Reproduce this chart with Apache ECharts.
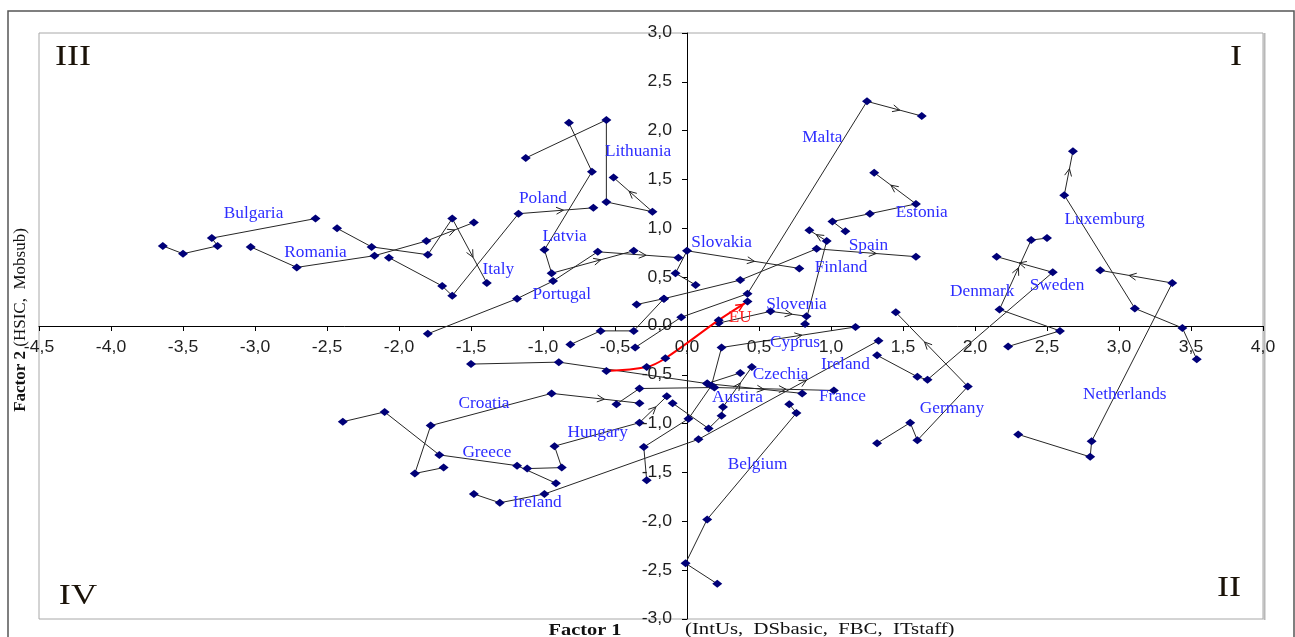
<!DOCTYPE html>
<html><head><meta charset="utf-8">
<script src="https://cdn.jsdelivr.net/npm/echarts/dist/echarts.min.js"></script>
<style>html,body{margin:0;padding:0;background:#fff}#c{width:1295px;height:637px}</style>
</head><body><div id="c"></div>
<script>
// ---- data (Factor 1, Factor 2) ----
const bulgaria   = [[-3.64,0.82],[-3.50,0.74],[-3.26,0.82],[-3.30,0.90],[-2.58,1.10]];
const romania    = [[-3.03,0.81],[-2.71,0.60],[-2.17,0.72],[-1.81,0.87],[-1.48,1.06]];
const italy      = [[-2.43,1.00],[-2.19,0.81],[-1.80,0.73],[-1.63,1.10],[-1.39,0.44]];
const poland     = [[-2.07,0.70],[-1.70,0.41],[-1.63,0.31],[-1.17,1.15],[-0.65,1.21]];
const lithuania  = [[-1.12,1.72],[-0.56,2.11],[-0.56,1.27],[-0.24,1.17],[-0.51,1.52]];
const latvia     = [[-0.82,2.08],[-0.66,1.58],[-0.99,0.78],[-0.94,0.54],[-0.37,0.77]];
const portugal   = [[-1.80,-0.08],[-1.18,0.28],[-0.93,0.46],[-0.62,0.76],[-0.06,0.70]];
const slovakia   = [[0.06,0.42],[-0.08,0.54],[0.00,0.77],[0.78,0.59]];
const malta      = [[-0.36,-0.22],[-0.04,0.09],[0.42,0.33],[1.25,2.30],[1.63,2.15]];
const eu         = [[-0.56,-0.46],[-0.28,-0.42],[-0.15,-0.33],[0.22,0.06],[0.42,0.25]];
const spain      = [[-0.35,0.22],[-0.16,0.28],[0.37,0.47],[0.90,0.79],[1.59,0.71]];
const centre     = [[-0.81,-0.19],[-0.60,-0.05],[-0.37,-0.05],[-0.16,0.28]];
const finland    = [[0.82,0.02],[0.97,0.87],[0.85,0.98]];
const estonia    = [[1.10,0.97],[1.01,1.07],[1.27,1.15],[1.59,1.25],[1.30,1.57]];
const slovenia   = [[0.22,0.03],[0.58,0.15],[0.83,0.10]];
const cyprus     = [[-0.28,-1.58],[-0.30,-1.24],[0.01,-0.95],[0.17,-0.61],[0.24,-0.22],[1.17,-0.01]];
const ireland    = [[-1.48,-1.72],[-1.30,-1.81],[-0.99,-1.72],[0.08,-1.16],[1.33,-0.15]];
const czechia    = [[-1.50,-0.39],[-0.89,-0.37],[0.14,-0.59],[0.80,-0.69]];
const france     = [[-0.49,-0.80],[-0.33,-0.64],[0.19,-0.63],[1.02,-0.66]];
const austria    = [[-0.10,-0.79],[0.15,-1.05],[0.24,-0.92],[0.25,-0.83],[0.45,-0.42]];
const austria2   = [[0.37,-0.48],[0.14,-0.59]];
const hungary    = [[-1.11,-1.46],[-0.87,-1.45],[-0.92,-1.23],[-0.33,-0.99],[-0.14,-0.72]];
const greece     = [[-2.39,-0.98],[-2.10,-0.88],[-1.72,-1.32],[-1.18,-1.43],[-0.91,-1.61]];
const croatia    = [[-1.69,-1.45],[-1.89,-1.51],[-1.78,-1.02],[-0.94,-0.69],[-0.33,-0.79]];
const belgium    = [[0.21,-2.64],[-0.01,-2.43],[0.14,-1.98],[0.76,-0.89],[0.71,-0.80]];
const germany    = [[1.32,-1.20],[1.55,-0.99],[1.60,-1.17],[1.95,-0.62],[1.45,0.14]];
const sweden     = [[1.32,-0.30],[1.60,-0.52],[1.67,-0.55],[2.54,0.55],[2.15,0.71]];
const denmark    = [[2.23,-0.21],[2.59,-0.05],[2.17,0.17],[2.39,0.88],[2.50,0.90]];
const luxemburg  = [[3.54,-0.34],[3.44,-0.02],[3.11,0.18],[2.62,1.34],[2.68,1.79]];
const netherlands= [[2.30,-1.11],[2.80,-1.34],[2.81,-1.18],[3.37,0.44],[2.87,0.57]];

// label anchors (data units)
const labelNames = ['Bulgaria','Romania','Poland','Lithuania','Latvia','Italy','Portugal','Slovakia','Malta','Estonia','Spain','Finland','Slovenia','EU','Cyprus','Ireland','Czechia','Austira','France','Croatia','Hungary','Greece','Ireland','Belgium','Germany','Denmark','Sweden','Luxemburg','Netherlands'];
const labelX = [-3.01,-2.58,-1.00,-0.34,-0.85,-1.31,-0.87,0.24,0.94,1.63,1.26,1.07,0.76,0.37,0.75,1.10,0.65,0.35,1.08,-1.41,-0.62,-1.39,-1.04,0.49,1.84,2.05,2.57,2.90,3.04];
const labelY = [1.15,0.75,1.30,1.78,0.91,0.58,0.32,0.85,1.93,1.16,0.82,0.60,0.22,0.08,-0.17,-0.40,-0.50,-0.74,-0.73,-0.80,-1.09,-1.30,-1.81,-1.42,-0.85,0.35,0.41,1.09,-0.70];

// tick values
const xTicks = [-4.5,-4.0,-3.5,-3.0,-2.5,-2.0,-1.5,-1.0,-0.5,0.0,0.5,1.0,1.5,2.0,2.5,3.0,3.5,4.0];
const yTicks = [-3.0,-2.5,-2.0,-1.5,-1.0,-0.5,0.0,0.5,1.0,1.5,2.0,2.5,3.0];

// trajectories: points, index of segment carrying the arrow (-1 none)
const trajectories = [
  [bulgaria,-1],[romania,3],[italy,3],[poland,3],[lithuania,3],[latvia,3],[portugal,3],
  [slovakia,2],[malta,3],[spain,3],[centre,-1],[finland,1],[estonia,3],[slovenia,1],
  [cyprus,4],[ireland,3],[czechia,2],[france,2],[austria,3],[austria2,-1],[hungary,3],
  [greece,-1],[croatia,3],[belgium,-1],[germany,3],[sweden,3],[denmark,2],[luxemburg,3],[netherlands,3]
];

const fmt = v => v.toFixed(1).replace('.', ',');

const series = [];
const arrowData = [];
trajectories.forEach(([pts, a]) => {
  series.push({
    type:'line', data: pts, symbol:'diamond', symbolSize:[10,8],
    itemStyle:{color:'#000078'}, lineStyle:{color:'#262626', width:1},
    z:3, silent:true, animation:false
  });
  if (a >= 0) arrowData.push([pts[a][0],pts[a][1],pts[a+1][0],pts[a+1][1],0]);
});
series.push({
  type:'line', data: eu, symbol:'diamond', symbolSize:[10,8], smooth:0.35,
  itemStyle:{color:'#000078'}, lineStyle:{color:'#ff0000', width:2}, z:4, silent:true, animation:false
});
arrowData.push([eu[3][0],eu[3][1],eu[4][0],eu[4][1],1]);

series.push({
  type:'custom', coordinateSystem:'cartesian2d', data: arrowData, encode:{x:[0,2], y:[1,3]},
  z:5, silent:true, animation:false,
  renderItem(params, api){
    const p1 = api.coord([api.value(0), api.value(1)]);
    const p2 = api.coord([api.value(2), api.value(3)]);
    const red = api.value(4) === 1;
    const t = red ? 0.85 : 0.6;
    const mx = p1[0]+(p2[0]-p1[0])*t, my = p1[1]+(p2[1]-p1[1])*t;
    const ang = Math.atan2(p2[1]-p1[1], p2[0]-p1[0]);
    const L = 8, w = 0.45;
    return {type:'polyline', shape:{points:[
      [mx - L*Math.cos(ang - w), my - L*Math.sin(ang - w)], [mx,my],
      [mx - L*Math.cos(ang + w), my - L*Math.sin(ang + w)]]},
      style:{stroke: red ? '#ff0000' : '#222', lineWidth: red ? 1.5 : 1, fill:null}};
  }
});

// country labels
series.push({
  type:'custom', coordinateSystem:'cartesian2d', z:10, silent:true, animation:false,
  data: labelNames.map((n,i) => [labelX[i], labelY[i], i]),
  encode:{x:0, y:1},
  renderItem(params, api){
    const p = api.coord([api.value(0), api.value(1)]);
    const n = labelNames[api.value(2)];
    return {type:'text', x:p[0], y:p[1], scaleX:1.08, style:{text:n,
      font:'16px "Liberation Serif"', fill: n === 'EU' ? '#ff2020' : '#2d2dff',
      align:'center', verticalAlign:'middle'}};
  }
});

// tick labels drawn at the crossing axes
series.push({
  type:'custom', coordinateSystem:'cartesian2d', z:6, silent:true, animation:false,
  data: xTicks.map(v => [v, 0]), encode:{x:0, y:1},
  renderItem(params, api){
    const p = api.coord([api.value(0), 0]);
    return {type:'text', x:p[0], y:p[1]+22, scaleX:1.1, style:{text:fmt(api.value(0)),
      font:'16px "Liberation Sans"', fill:'#1e1e1e', align:'center', verticalAlign:'middle'}};
  }
});
series.push({
  type:'custom', coordinateSystem:'cartesian2d', z:6, silent:true, animation:false,
  data: yTicks.map(v => [0, v]), encode:{x:0, y:1},
  renderItem(params, api){
    const p = api.coord([0, api.value(1)]);
    return {type:'text', x:p[0]-15, y:p[1], scaleX:1.1, style:{text:fmt(api.value(1)),
      font:'16px "Liberation Sans"', fill:'#1e1e1e', align:'right', verticalAlign:'middle'}};
  }
});

const chart = echarts.init(document.getElementById('c'), null, {renderer:'canvas'});
chart.setOption({
  animation:false,
  backgroundColor:'#fff',
  grid:{left:39, top:33, width:1224, height:586, containLabel:false, outerBoundsMode:'none',
    show:true, borderColor:'#a8a8a8', borderWidth:1, backgroundColor:'transparent'},
  xAxis:{type:'value', min:-4.5, max:4, interval:0.5,
    axisLine:{onZero:true, lineStyle:{color:'#000', width:1}},
    axisTick:{show:true, length:5, lineStyle:{color:'#000'}},
    axisLabel:{show:false},
    splitLine:{show:false}},
  yAxis:{type:'value', min:-3, max:3, interval:0.5,
    axisLine:{onZero:true, lineStyle:{color:'#000', width:1}},
    axisTick:{show:true, length:5, lineStyle:{color:'#000'}},
    axisLabel:{show:false},
    splitLine:{show:false}},
  series,
  graphic:[
    {type:'rect', shape:{x:8, y:11, width:1286, height:640}, style:{fill:null, stroke:'#555', lineWidth:1.5}, silent:true},
    {type:'line', shape:{x1:1264.5, y1:33, x2:1264.5, y2:620}, style:{stroke:'#b8b8b8', lineWidth:2}, silent:true},
    {type:'text', x:73, y:57, scaleX:1.25, style:{text:'III', font:'29px "Liberation Serif"', fill:'#1a1208', align:'center', verticalAlign:'middle'}},
    {type:'text', x:1236, y:57, scaleX:1.25, style:{text:'I', font:'29px "Liberation Serif"', fill:'#1a1208', align:'center', verticalAlign:'middle'}},
    {type:'text', x:78, y:596, scaleX:1.25, style:{text:'IV', font:'29px "Liberation Serif"', fill:'#1a1208', align:'center', verticalAlign:'middle'}},
    {type:'text', x:1229, y:588, scaleX:1.25, style:{text:'II', font:'29px "Liberation Serif"', fill:'#1a1208', align:'center', verticalAlign:'middle'}},
    {type:'text', x:585, y:631, scaleX:1.2, style:{text:'Factor 1', font:'bold 17px "Liberation Serif"', fill:'#111', align:'center', verticalAlign:'middle'}},
    {type:'text', x:685, y:630, scaleX:1.22, style:{text:'(IntUs,  DSbasic,  FBC,  ITstaff)', font:'17px "Liberation Serif"', fill:'#111', align:'left', verticalAlign:'middle'}},
    {type:'text', x:21, y:320, rotation:Math.PI/2, style:{
      text:'{b|Factor 2 }{n|(HSIC,  Mobsub)}', align:'center', verticalAlign:'middle',
      rich:{b:{font:'bold 17px "Liberation Serif"', fill:'#111'}, n:{font:'17px "Liberation Serif"', fill:'#111'}}}}
  ]
});
</script></body></html>
